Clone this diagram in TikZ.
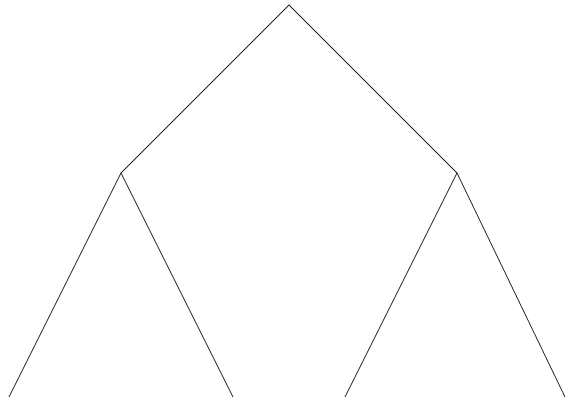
\documentclass[tikz,border=0pt]{standalone}
\begin{document}
\begin{tikzpicture}[x=1pt,y=1pt,edge/.style={draw=black!85,line width=0.8pt}]
\useasboundingbox (0,0) rectangle (566,401);
\coordinate (r) at (289,396);
\coordinate (a) at (121,228);
\coordinate (b) at (457,228);
\coordinate (a1) at (9,4);
\coordinate (a2) at (233,4);
\coordinate (b1) at (345,4);
\coordinate (b2) at (565,4);
\draw[edge] (a) -- (r) -- (b);
\draw[edge] (a1) -- (a) -- (a2);
\draw[edge] (b1) -- (b) -- (b2);
\end{tikzpicture}
\end{document}
